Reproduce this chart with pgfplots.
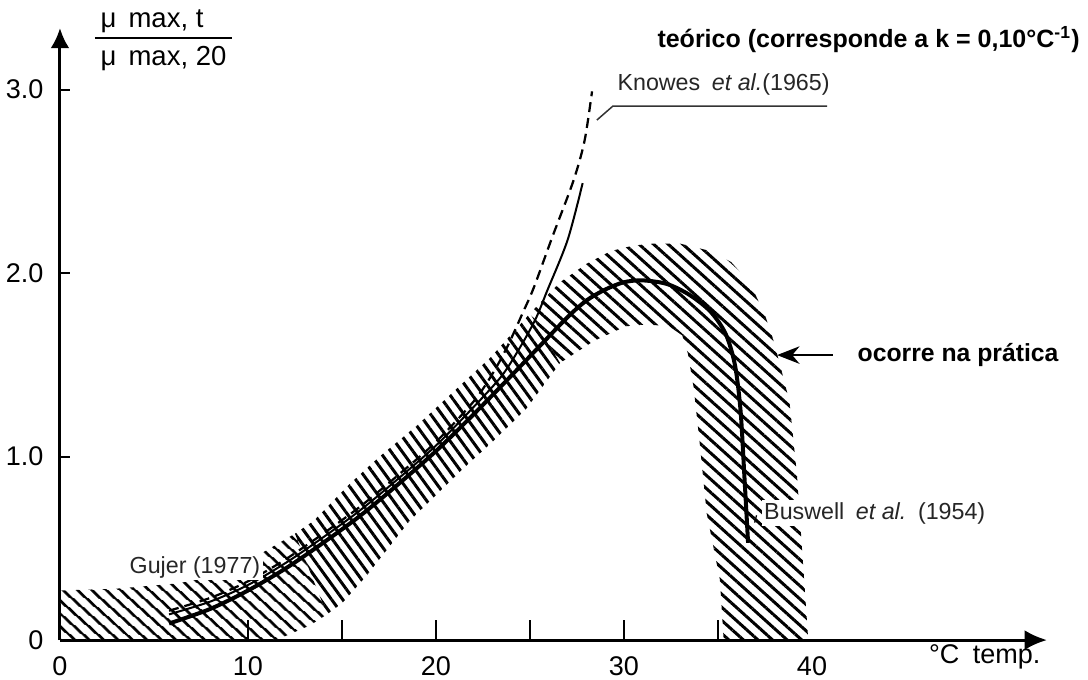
\documentclass[border=0pt]{standalone}
\usepackage{fontspec}
\setmainfont{Liberation Sans}
\usepackage{pgfplots}
\pgfplotsset{compat=1.18}
\usetikzlibrary{arrows.meta,patterns.meta}

\begin{document}
\begin{tikzpicture}
\begin{axis}[
    x=7.52pt, y=73.4pt,
    xmin=0, xmax=52.5, ymin=0, ymax=3.335,
    axis lines=left,
    axis line style={line width=1.2pt},
    x axis line style={-{Latex[length=9pt,width=8pt]}},
    y axis line style={-{Latex[length=8pt,width=7.5pt]}},
    clip=false,
    xtick={0,10,20,30,40},
    xticklabels={0,10,20,30,40},
    ytick={0,1,2,3},
    yticklabels={0,1.0,2.0,3.0},
    xtick style={draw=none},
    ytick style={draw=none},
    xticklabel style={font=\fontsize{10.8}{12}\selectfont, yshift=-1pt},
    yticklabel style={font=\fontsize{10.8}{12}\selectfont, xshift=-1pt},
    /pgf/number format/assume math mode=true,
]

% hatched band (occurs in practice): left, middle and right parts
\addplot[draw=none, pattern={Lines[angle=-42,distance=4pt,line width=1.2pt]}] coordinates {
    (0,0) (0,0.27) (3,0.28) (6.4,0.31) (8.5,0.37) (10.5,0.46) (12.5,0.58)
    (14.2,0.14) (13.3,0.08) (11.5,0)
} -- cycle;
\addplot[draw=none, pattern={Lines[angle=-54,distance=3.6pt,line width=1.2pt]}] coordinates {
    (12.5,0.58) (13.5,0.65) (15.4,0.85) (17,1.0) (19,1.17) (21,1.36) (22.9,1.54)
    (25,1.78) (26.6,1.51) (24.8,1.26) (23,1.08) (21.4,0.93) (18.6,0.65) (16.3,0.35)
    (15,0.2) (14.2,0.14)
} -- cycle;
\addplot[draw=none, pattern={Lines[angle=-42,distance=3.9pt,line width=1.2pt]}] coordinates {
    (25,1.78) (26.6,1.95) (28,2.05) (29.3,2.12) (30.5,2.15) (31.5,2.16) (33,2.16)
    (34.6,2.12) (35.7,2.06) (36.4,1.98) (37,1.88) (37.5,1.77) (37.9,1.65)
    (38.3,1.5) (38.8,1.3) (39.2,0.9) (39.6,0.3) (39.8,0) (35.3,0) (35.1,0.33)
    (34.4,0.69) (34,1.1) (33.7,1.38) (33.4,1.56) (33.1,1.66) (32.4,1.71)
    (31.2,1.72) (30.1,1.71) (28.4,1.63) (26.6,1.51)
} -- cycle;

% Knowles (dashed)
\addplot[line width=0.9pt, smooth, dash pattern=on 4pt off 2.4pt] coordinates {
    (5.8,0.16) (8,0.23) (10,0.32) (12,0.44) (14,0.58) (16,0.73) (18,0.9) (20,1.08)
    (22,1.3) (23,1.45) (23.8,1.6) (24.6,1.78) (25.2,1.92) (26.2,2.2) (27.3,2.5)
    (27.9,2.72) (28.3,2.99)
};

% Gujer (thin solid)
\addplot[line width=0.8pt, smooth] coordinates {
    (5.8,0.14) (8,0.21) (10,0.3) (12,0.42) (14,0.56) (16,0.71) (18,0.88) (20,1.06)
    (22,1.27) (23.5,1.44) (24.5,1.6) (25.3,1.75) (25.9,1.9) (27,2.18) (27.8,2.49)
};

% Buswell (thick solid)
\addplot[line width=1.6pt, smooth] coordinates {
    (5.8,0.09) (8,0.17) (10,0.27) (12,0.39) (14,0.53) (16,0.68) (18,0.85)
    (20,1.03) (22,1.23) (24,1.44) (25.5,1.6) (27,1.76) (28,1.85) (29,1.91)
    (30,1.95) (31,1.96) (32.3,1.94) (33.5,1.88) (34.6,1.79) (35.4,1.67)
    (35.9,1.5) (36.2,1.25) (36.4,0.9) (36.6,0.53)
};

% tick marks
\draw[line width=0.8pt] (axis cs:10,0) -- ++(0pt,8pt);
\draw[line width=0.8pt] (axis cs:15,0) -- ++(0pt,8pt);
\draw[line width=0.8pt] (axis cs:20,0) -- ++(0pt,8pt);
\draw[line width=0.8pt] (axis cs:25,0) -- ++(0pt,8pt);
\draw[line width=0.8pt] (axis cs:30,0) -- ++(0pt,8pt);
\draw[line width=0.8pt] (axis cs:35,0) -- ++(0pt,8pt);
\draw[line width=0.8pt] (axis cs:0,1) -- ++(4pt,0pt);
\draw[line width=0.8pt] (axis cs:0,2) -- ++(4pt,0pt);
\draw[line width=0.8pt] (axis cs:0,3) -- ++(4pt,0pt);

% y label (fraction)
\node[anchor=west, inner sep=0pt, font=\fontsize{11}{13}\selectfont] at (axis cs:2.13,3.37) {μ\, max, t};
\node[anchor=west, inner sep=0pt, font=\fontsize{11}{13}\selectfont] at (axis cs:2.13,3.17) {μ\, max, 20};
\draw[line width=0.8pt] (axis cs:1.86,3.28) -- (axis cs:9.15,3.28);

% x label
\node[anchor=west, inner sep=0pt, font=\fontsize{10.8}{13}\selectfont] at (axis cs:46.2,-0.09) {°C\enspace temp.};

% annotations
\node[anchor=east, inner sep=0pt, font=\bfseries\fontsize{10}{12}\selectfont] at (axis cs:54.26,3.27)
    {teórico (corresponde a k = 0,10°C\textsuperscript{-1})};
\node[anchor=west, inner sep=1pt, fill=white, text=black!85, font=\fontsize{9.3}{11}\selectfont] at (axis cs:29.5,3.03)
    {Knowes\enspace\textit{et al.}(1965)};
\draw[line width=0.6pt, black!80] (axis cs:28.56,2.834) -- (axis cs:29.41,2.91) -- (axis cs:40.8,2.91);
\node[anchor=west, inner sep=0pt, font=\bfseries\fontsize{9.9}{12}\selectfont] at (axis cs:42.4,1.553) {ocorre na prática};
\draw[line width=0.8pt, -{Stealth[length=9pt,width=7pt]}] (axis cs:41.1,1.553) -- (axis cs:38.14,1.553);
\node[anchor=west, inner sep=1pt, fill=white, text=black!85, font=\fontsize{9.3}{11}\selectfont] at (axis cs:3.55,0.398) {Gujer (1977)};
\node[anchor=west, inner sep=1pt, fill=white, text=black!85, font=\fontsize{9.3}{11}\selectfont] at (axis cs:37.3,0.692)
    {Buswell\enspace\textit{et al.}\enspace(1954)};
\draw[line width=0.5pt] (axis cs:36.95,0.64) -- (axis cs:37.05,0.68);

\coordinate (bbsw) at (axis cs:-3.19,-0.2125);
\coordinate (bbne) at (axis cs:54.68,3.488);
\end{axis}
\pgfresetboundingbox
\useasboundingbox (bbsw) rectangle (bbne);
\end{tikzpicture}
\end{document}
